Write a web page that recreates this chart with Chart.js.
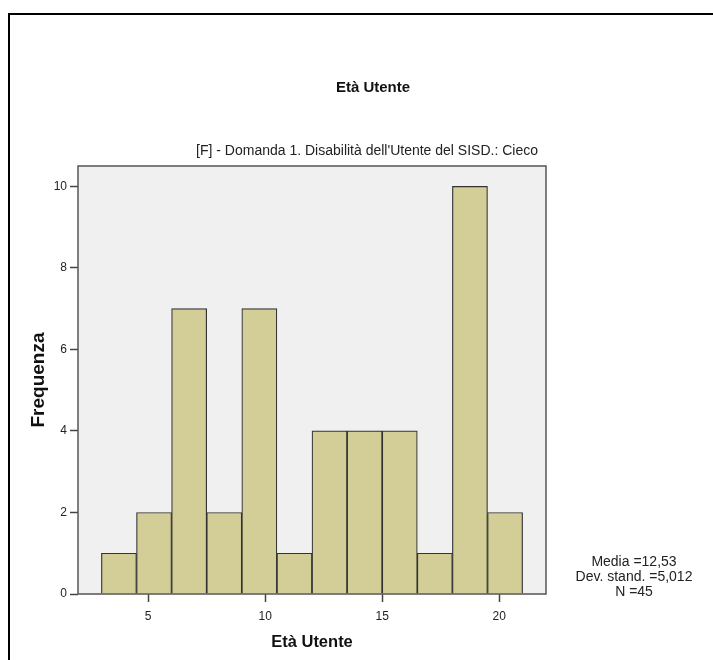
<!DOCTYPE html>
<html>
<head>
<meta charset="utf-8">
<script src="https://cdn.jsdelivr.net/npm/chart.js@4/dist/chart.umd.min.js"></script>
<style>
  html, body { margin: 0; padding: 0; background: #fff; }
  #wrap { width: 713px; height: 660px; position: relative; }
</style>
</head>
<body>
<div id="wrap"><canvas id="histChart" width="713" height="660"></canvas></div>
<script>
// Età Utente - istogramma (gruppo: Cieco)
const binCenters = [3.75, 5.25, 6.75, 8.25, 9.75, 11.25, 12.75, 14.25, 15.75, 17.25, 18.75, 20.25];
const frequencies = [1, 2, 7, 2, 7, 1, 4, 4, 4, 1, 10, 2];
const xTicks = [5, 10, 15, 20];
const yTicks = [0, 2, 4, 6, 8, 10];
const statsLines = ['Media =12,53', 'Dev. stand. =5,012', 'N =45'];

const FONT = "'Liberation Sans', Arial, sans-serif";

const spssDecor = {
  id: 'spssDecor',
  beforeDraw(chart) {
    const { ctx, chartArea: a } = chart;
    ctx.save();
    // outer frame
    ctx.strokeStyle = '#000';
    ctx.lineWidth = 2;
    ctx.beginPath();
    ctx.moveTo(9, 660);
    ctx.lineTo(9, 14);
    ctx.lineTo(713, 14);
    ctx.stroke();
    // plot background
    ctx.fillStyle = '#f0f0f0';
    ctx.fillRect(a.left, a.top, a.right - a.left, a.bottom - a.top);
    ctx.restore();
  },
  afterDraw(chart) {
    const { ctx, chartArea: a } = chart;
    ctx.save();
    ctx.strokeStyle = '#555';
    ctx.lineWidth = 1.5;
    ctx.strokeRect(a.left, a.top, a.right - a.left, a.bottom - a.top);

    ctx.fillStyle = '#111';
    ctx.textAlign = 'center';
    ctx.textBaseline = 'middle';
    ctx.font = 'bold 15px ' + FONT;
    ctx.fillText('Età Utente', 373, 88);

    ctx.fillStyle = '#222';
    ctx.font = '14px ' + FONT;
    ctx.textAlign = 'right';
    ctx.textBaseline = 'alphabetic';
    ctx.fillText("[F] - Domanda 1. Disabilità dell'Utente del SISD.: Cieco", 538, 155);

    ctx.textAlign = 'center';
    ctx.textBaseline = 'middle';
    statsLines.forEach((s, i) => ctx.fillText(s, 634, 562 + i * 15));
    ctx.restore();
  }
};

new Chart(document.getElementById('histChart'), {
  type: 'bar',
  data: {
    datasets: [{
      data: binCenters.map((c, i) => ({ x: c, y: frequencies[i] })),
      backgroundColor: '#d3ce97',
      borderColor: '#333',
      borderWidth: 1.2,
      barPercentage: 1,
      categoryPercentage: 1
    }]
  },
  options: {
    responsive: false,
    animation: false,
    layout: { padding: { top: 166, right: 167, left: 0, bottom: 0 } },
    plugins: { legend: { display: false }, tooltip: { enabled: false } },
    scales: {
      x: {
        type: 'linear',
        min: 2,
        max: 22,
        offset: false,
        afterBuildTicks: s => { s.ticks = xTicks.map(v => ({ value: v })); },
        afterFit: s => { s.height = 66; },
        grid: { offset: false, drawOnChartArea: false, drawTicks: true, tickLength: 8, tickColor: '#444', tickWidth: 1.5 },
        border: { display: false },
        ticks: { color: '#222', padding: 7, font: { family: FONT, size: 12 } },
        title: { display: true, text: 'Età Utente', color: '#111', padding: { top: 0, bottom: 8 }, font: { family: FONT, size: 16.5, weight: 'bold' } }
      },
      y: {
        min: 0,
        max: 10.5,
        afterBuildTicks: s => { s.ticks = yTicks.map(v => ({ value: v })); },
        afterFit: s => { s.width = 78; },
        grid: { drawOnChartArea: false, drawTicks: true, tickLength: 8, tickColor: '#444', tickWidth: 1.5 },
        border: { display: false },
        ticks: { color: '#222', padding: 3, font: { family: FONT, size: 12 } },
        title: { display: true, text: 'Frequenza', color: '#111', padding: { top: 27, bottom: 0 }, font: { family: FONT, size: 19, weight: 'bold' } }
      }
    }
  },
  plugins: [spssDecor]
});
</script>
</body>
</html>
